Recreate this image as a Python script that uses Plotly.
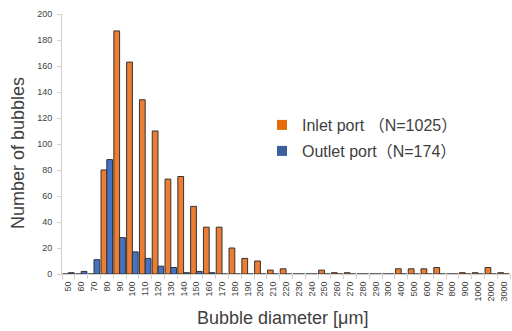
import plotly.graph_objects as go

categories = ["50", "60", "70", "80", "90", "100", "110", "120", "130", "140", "150",
              "160", "170", "180", "190", "200", "210", "220", "230", "240", "250",
              "260", "270", "280", "290", "300", "400", "500", "600", "700", "800",
              "900", "1000", "2000", "3000"]
inlet = [0, 0, 0, 80, 187, 163, 134, 110, 73, 75, 52,
         36, 36, 20, 12, 10, 3, 4, 0, 0, 3,
         1, 1, 0, 0, 0, 4, 4, 4, 5, 0,
         1, 1, 5, 1]
outlet = [1, 2, 11, 88, 28, 17, 12, 6, 5, 1, 2,
          1, 0, 0, 0, 0, 0, 0, 0, 0, 0,
          0, 0, 0, 0, 0, 0, 0, 0, 0, 0,
          0, 0, 0, 0]
inlet_name = "Inlet port （N=1025）"
outlet_name = "Outlet port（N=174）"
y_ticks = [0, 20, 40, 60, 80, 100, 120, 140, 160, 180, 200]

FONT = "Liberation Sans, Arial, Noto Sans CJK JP"
OUTLINE = "#333333"

# plot area in pixels: x 62..510, y 14..274
def px_x(px):
    return (px - 62) / 448

def px_y(py):
    return (274 - py) / 260

fig = go.Figure()
fig.add_trace(go.Bar(x=categories, y=inlet, name=inlet_name, showlegend=False,
                     marker=dict(color="#ED7D31", line=dict(color=OUTLINE, width=1))))
fig.add_trace(go.Bar(x=categories, y=outlet, name=outlet_name, showlegend=False,
                     marker=dict(color="#4472C4", line=dict(color=OUTLINE, width=1))))
# legend-only entries
fig.add_trace(go.Scatter(x=[None], y=[None], mode="markers", name=inlet_name, legend="legend",
                         marker=dict(symbol="square", size=10, color="#E46C0A", line=dict(width=0))))
fig.add_trace(go.Scatter(x=[None], y=[None], mode="markers", name=outlet_name, legend="legend2",
                         marker=dict(symbol="square", size=10, color="#3A5F9C", line=dict(width=0))))

leg_common = dict(xanchor="left", yanchor="middle",
                  bgcolor="rgba(0,0,0,0)", font=dict(family=FONT, size=16, color="#404040"),
                  itemclick=False)
fig.update_layout(
    width=512, height=331,
    margin=dict(l=62, r=2, t=14, b=57),
    paper_bgcolor="white", plot_bgcolor="white",
    barmode="group", bargap=0.1, bargroupgap=0,
    legend=dict(x=px_x(262), y=px_y(125), **leg_common),
    legend2=dict(x=px_x(262), y=px_y(151), **leg_common),
    xaxis=dict(type="category", categoryorder="array", categoryarray=categories,
               tickangle=-90, tickson="boundaries", ticks="outside", ticklen=4,
               tickcolor="#d0d0d0", showline=True, linecolor="#d0d0d0", linewidth=1,
               showgrid=False, ticklabelstandoff=3,
               tickfont=dict(family=FONT, size=9, color="#404040")),
    yaxis=dict(range=[0, 200], tickvals=y_ticks, ticks="outside", ticklen=4,
               tickcolor="#d0d0d0", showline=True, linecolor="#d0d0d0", linewidth=1,
               showgrid=False, zeroline=False, ticklabelstandoff=3,
               tickfont=dict(family=FONT, size=9, color="#404040")),
    annotations=[
        dict(text="Bubble diameter [μm]", xref="paper", yref="paper",
             x=px_x(282), y=px_y(318), xanchor="center", yanchor="middle",
             showarrow=False, font=dict(family=FONT, size=18, color="#404040")),
        dict(text="Number of bubbles", xref="paper", yref="paper",
             x=px_x(18), y=px_y(153), xanchor="center", yanchor="middle",
             textangle=-90, showarrow=False, font=dict(family=FONT, size=18, color="#404040")),
    ],
)

fig.write_html("out.html")
